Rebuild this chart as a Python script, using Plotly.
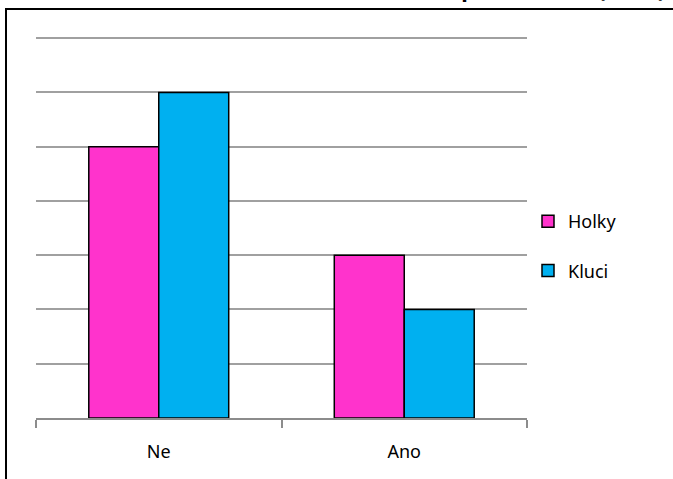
import plotly.graph_objects as go

categories = ["Ne", "Ano"]
holky = [5, 3]
kluci = [6, 2]
y_max = 7

W, H = 673, 479
L, R, T, B = 36, 146, 37, 61
pw, ph = W - L - R, H - T - B


def px_x(p):
    return (p - L) / pw


def px_y(p):
    return (H - B - p) / ph


fig = go.Figure()

fig.add_trace(go.Bar(
    x=categories,
    y=holky,
    name="Holky",
    marker=dict(color="#FF33CC", line=dict(color="black", width=1.5)),
    legendgroup="h",
))
fig.add_trace(go.Bar(
    x=categories,
    y=kluci,
    name="Kluci",
    marker=dict(color="#00B0F0", line=dict(color="black", width=1.5)),
    legendgroup="k",
))

# outer chart border (partly cropped in the source)
fig.add_shape(
    type="rect", xref="paper", yref="paper",
    x0=px_x(6), x1=px_x(700), y0=px_y(9), y1=px_y(520),
    line=dict(color="black", width=2), fillcolor="rgba(0,0,0,0)",
    layer="above",
)

# title, mostly cut off above the visible area
fig.add_annotation(
    text="<b>Odpovědi žáků (osob)</b>",
    xref="paper", yref="paper",
    x=px_x(667), y=px_y(5), xanchor="right", yanchor="bottom",
    showarrow=False, font=dict(size=22, color="black"),
)

fig.update_layout(
    width=W, height=H,
    margin=dict(l=L, r=R, t=T, b=B, autoexpand=False),
    paper_bgcolor="white",
    plot_bgcolor="white",
    font=dict(family="Noto Sans", size=18, color="black"),
    barmode="group",
    bargap=0.43,
    bargroupgap=0,
    showlegend=True,
    legend=dict(
        x=px_x(528), y=px_y(246), xanchor="left", yanchor="middle",
        font=dict(size=18), tracegroupgap=23, itemwidth=30,
    ),
    xaxis=dict(
        showline=True, linecolor="#8C8C8C", linewidth=1.5,
        ticks="outside", tickson="boundaries", ticklen=8,
        tickcolor="#8C8C8C", tickwidth=1.5,
        ticklabelstandoff=17,
        showgrid=False,
    ),
    yaxis=dict(
        range=[0, y_max * 1.003], dtick=1,
        showgrid=True, gridcolor="#A0A0A0", gridwidth=1.5,
        showticklabels=False, zeroline=False, showline=False,
    ),
)

fig.write_html(
    "out.html",
    config={"displayModeBar": False},
    post_script="document.body.style.margin = '0';",
)
